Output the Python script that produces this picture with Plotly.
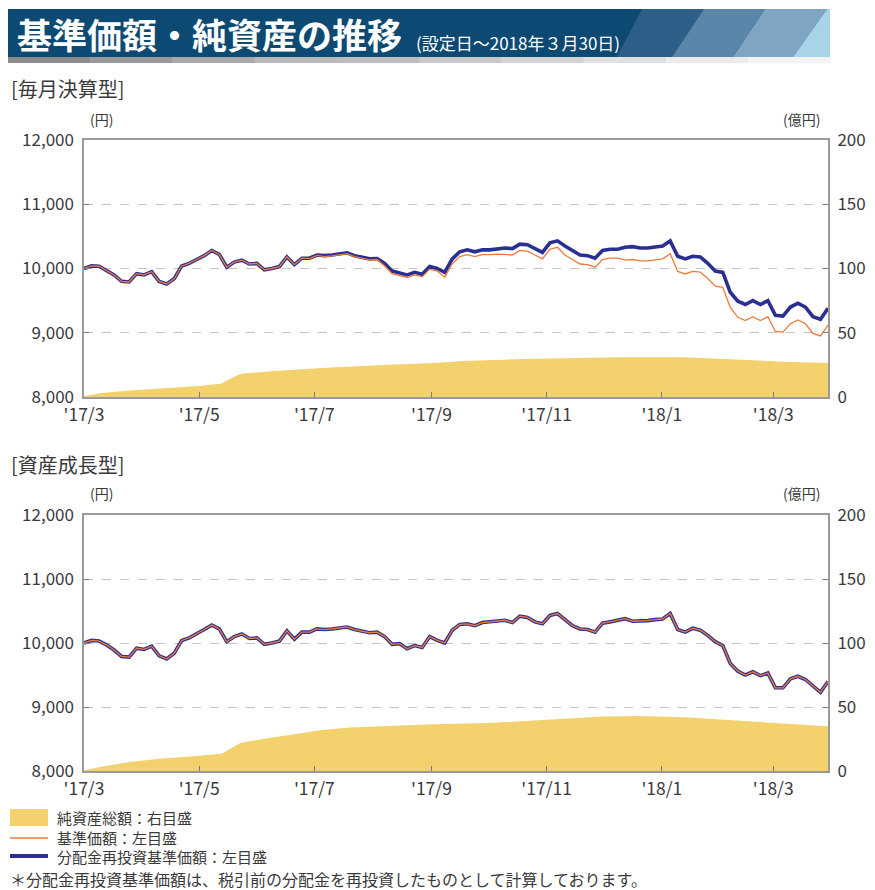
import plotly.graph_objects as go
import pandas as pd

# page body has an 8px margin: the figure is sized/shifted so that
# page pixel coordinates match the reference picture
OFF = 8
W, H = 875 - OFF, 890 - OFF

# ---------------- data ----------------
DATES = pd.date_range("2017-03-01", "2018-03-30", periods=100)

# 毎月決算型
M_NAV_REINV = [10000, 10040, 10035, 9970, 9900, 9800, 9790, 9920, 9900, 9950,
               9800, 9760, 9840, 10040, 10080, 10140, 10200, 10280, 10220, 10020,
               10100, 10130, 10070, 10080, 9980, 10000, 10030, 10180, 10060, 10160,
               10160, 10210, 10200, 10210, 10230, 10245, 10200, 10170, 10150, 10155,
               10080, 9960, 9930, 9900, 9940, 9910, 10030, 10000, 9940, 10150,
               10260, 10290, 10260, 10290, 10290, 10300, 10320, 10310, 10380, 10370,
               10310, 10250, 10400, 10430, 10350, 10280, 10210, 10200, 10160, 10280,
               10300, 10300, 10330, 10340, 10320, 10320, 10340, 10350, 10430, 10190,
               10150, 10190, 10180, 10080, 9960, 9940, 9630, 9490, 9440, 9500,
               9440, 9500, 9270, 9260, 9400, 9460, 9400, 9250, 9210, 9380]
M_NAV = [10000, 10040, 10035, 9970, 9900, 9800, 9790, 9920, 9900, 9950,
         9800, 9760, 9840, 10040, 10080, 10140, 10200, 10280, 10220, 10020,
         10100, 10130, 10070, 10080, 9980, 10000, 10030, 10180, 10060, 10160,
         10155, 10205, 10185, 10195, 10215, 10230, 10185, 10155, 10135, 10140,
         10040, 9920, 9890, 9860, 9900, 9870, 9990, 9960, 9865, 10075,
         10185, 10215, 10185, 10215, 10215, 10225, 10220, 10210, 10280, 10270,
         10210, 10150, 10300, 10330, 10210, 10140, 10070, 10060, 10020, 10140,
         10160, 10160, 10130, 10140, 10120, 10120, 10140, 10150, 10230, 9955,
         9915, 9955, 9945, 9845, 9725, 9705, 9395, 9240, 9190, 9250,
         9190, 9250, 9020, 9010, 9140, 9200, 9140, 8990, 8950, 9120]
M_AREA_DATES = ["2017-03-01", "2017-03-09", "2017-03-25", "2017-04-10", "2017-05-01",
                "2017-05-13", "2017-05-17", "2017-05-23", "2017-06-08", "2017-07-05",
                "2017-08-06", "2017-09-02", "2017-09-18", "2017-10-20", "2017-11-15",
                "2017-12-10", "2018-01-13", "2018-02-03", "2018-03-06", "2018-03-30"]
M_ASSETS = [0.5, 3, 5, 6.5, 8.5, 10.5, 14, 18, 20, 22.5,
            25, 26.5, 28, 29.5, 30.5, 31, 31, 29.5, 27.5, 26.5]

# 資産成長型
G_NAV_REINV = [10000, 10040, 10030, 9970, 9890, 9790, 9780, 9920, 9900, 9950,
               9800, 9750, 9840, 10040, 10080, 10140, 10210, 10280, 10220, 10020,
               10100, 10140, 10070, 10080, 9980, 10000, 10030, 10190, 10060, 10170,
               10170, 10220, 10210, 10220, 10240, 10250, 10210, 10180, 10160, 10170,
               10100, 9980, 9990, 9910, 9960, 9930, 10100, 10040, 10000, 10200,
               10290, 10300, 10270, 10320, 10335, 10340, 10355, 10320, 10420, 10400,
               10330, 10300, 10430, 10460, 10370, 10270, 10220, 10210, 10170, 10310,
               10330, 10360, 10380, 10340, 10340, 10350, 10365, 10375, 10460, 10210,
               10170, 10230, 10200, 10120, 10020, 9960, 9680, 9560, 9500, 9550,
               9490, 9530, 9300, 9300, 9440, 9480, 9430, 9330, 9230, 9400]
G_NAV = [10000, 10040, 10030, 9970, 9890, 9790, 9780, 9920, 9900, 9950,
         9800, 9750, 9840, 10040, 10080, 10140, 10210, 10280, 10220, 10020,
         10100, 10140, 10070, 10080, 9980, 10000, 10030, 10190, 10060, 10170,
         10170, 10220, 10210, 10220, 10240, 10250, 10210, 10180, 10160, 10170,
         10100, 9980, 9990, 9910, 9960, 9930, 10100, 10040, 10000, 10200,
         10290, 10300, 10270, 10320, 10335, 10340, 10355, 10320, 10420, 10400,
         10330, 10300, 10430, 10460, 10370, 10270, 10220, 10210, 10170, 10310,
         10330, 10360, 10380, 10340, 10340, 10350, 10365, 10375, 10460, 10210,
         10170, 10230, 10200, 10120, 10020, 9960, 9680, 9560, 9500, 9550,
         9490, 9530, 9300, 9300, 9440, 9480, 9430, 9330, 9230, 9400]
G_AREA_DATES = ["2017-03-01", "2017-03-09", "2017-03-25", "2017-04-10", "2017-05-01",
                "2017-05-13", "2017-05-17", "2017-05-23", "2017-06-08", "2017-07-05",
                "2017-07-20", "2017-08-06", "2017-09-02", "2017-10-01", "2017-11-01",
                "2017-12-01", "2017-12-20", "2018-01-13", "2018-02-03", "2018-03-06",
                "2018-03-30"]
G_ASSETS = [0.5, 3, 7, 9.5, 12, 13.5, 17, 22, 26, 32,
            34, 35, 36.5, 37.5, 40, 42.5, 43, 42, 40, 37.5, 35]

TICK_VALS = ["2017-03-01", "2017-05-01", "2017-07-01", "2017-09-01",
             "2017-11-01", "2018-01-01", "2018-03-01"]
TICK_TEXT = ["'17/3", "'17/5", "'17/7", "'17/9", "'17/11", "'18/1", "'18/3"]

LEGEND_TEXT = ["純資産総額：右目盛", "基準価額：左目盛", "分配金再投資基準価額：左目盛"]

# ---------------- style ----------------
FONT = "Noto Sans CJK JP"
GOLD = "#f3d16c"
BLUE = "#2b3090"
ORANGE = "#ee7b3a"
TXT = "#3a3a3a"
AX = "#9a9a9a"


def px(x):
    return (x - OFF) / W


def py(y):
    return 1 - (y - OFF) / H


fig = go.Figure()

for xa, ya_area, ya_line, ad, av, reinv, nav in [
    ("x", "y", "y2", M_AREA_DATES, M_ASSETS, M_NAV_REINV, M_NAV),
    ("x2", "y3", "y4", G_AREA_DATES, G_ASSETS, G_NAV_REINV, G_NAV),
]:
    fig.add_trace(go.Scatter(x=ad, y=av, xaxis=xa, yaxis=ya_area, mode="lines",
                             fill="tozeroy", fillcolor=GOLD,
                             line=dict(width=0, color=GOLD), showlegend=False,
                             hoverinfo="skip"))
    fig.add_trace(go.Scatter(x=DATES, y=reinv, xaxis=xa, yaxis=ya_line, mode="lines",
                             line=dict(color=BLUE, width=3.6), showlegend=False))
    fig.add_trace(go.Scatter(x=DATES, y=nav, xaxis=xa, yaxis=ya_line, mode="lines",
                             line=dict(color=ORANGE, width=1.3), showlegend=False))

XDOM = [px(84), px(828)]
TOP_DOM = [py(397), py(140)]
BOT_DOM = [py(771), py(515)]

def xaxis_cfg(anchor):
    return dict(domain=XDOM, anchor=anchor, type="date", automargin=False,
                range=[DATES[0], DATES[-1]],
                tickvals=TICK_VALS, ticktext=TICK_TEXT,
                ticks="inside", ticklen=5, tickcolor="#777", tickwidth=1,
                showline=True, linecolor=AX, linewidth=2, mirror=True,
                showgrid=False, zeroline=False,
                tickfont=dict(family=FONT, size=17.5, color=TXT),
                ticklabelstandoff=1)

def right_cfg(anchor, dom):
    return dict(domain=dom, anchor=anchor, side="right", range=[0, 200],
                automargin=False,
                tickvals=[0, 50, 100, 150, 200], ticks="inside", ticklen=5,
                tickcolor="#777", showline=True, linecolor=AX, linewidth=2,
                mirror=True, showgrid=True, gridcolor="#c4c4c4", griddash="dash",
                gridwidth=1, zeroline=False,
                tickfont=dict(family=FONT, size=17, color=TXT),
                ticklabelstandoff=4)

def left_cfg(over, anchor):
    return dict(overlaying=over, anchor=anchor, side="left", range=[8000, 12000],
                automargin=False,
                tickvals=[8000, 9000, 10000, 11000, 12000], tickformat=",d",
                ticks="inside", ticklen=5, tickcolor="#777",
                showline=False, showgrid=False, zeroline=False,
                tickfont=dict(family=FONT, size=17, color=TXT),
                ticklabelstandoff=9)

shapes = []
# banner
BT, BB = 9, 57
shapes.append(dict(type="rect", xref="paper", yref="paper", x0=px(8), x1=px(830),
                   y0=py(BB), y1=py(BT), fillcolor="#0d4a73", line=dict(width=0)))
bands = [((642, 617), (704, 672), "#2e5f88"),
         ((704, 672), (765, 733), "#5986a9"),
         ((765, 733), (827, 793), "#7ea6c4")]
for (t0, b0), (t1, b1), col in bands:
    path = (f"M {px(t0)} {py(BT)} L {px(t1)} {py(BT)} L {px(b1)} {py(BB)} "
            f"L {px(b0)} {py(BB)} Z")
    shapes.append(dict(type="path", xref="paper", yref="paper", path=path,
                       fillcolor=col, line=dict(width=0)))
shapes.append(dict(type="path", xref="paper", yref="paper",
                   path=(f"M {px(827)} {py(BT)} L {px(830)} {py(BT)} L {px(830)} {py(BB)} "
                         f"L {px(793)} {py(BB)} Z"),
                   fillcolor="#a9d3e9", line=dict(width=0)))
# gray gradient strip
grays = ["#8c8c8c", "#9a9a9a", "#a8a8a8", "#b8b8b8", "#bdbdbd", "#c8c8c8",
         "#d4d4d4", "#e0e0e0", "#ebebeb", "#f4f4f4"]
seg = (830 - 8) / len(grays)
for i, g in enumerate(grays):
    shapes.append(dict(type="rect", xref="paper", yref="paper",
                       x0=px(8 + i * seg), x1=px(8 + (i + 1) * seg + 0.5),
                       y0=py(63), y1=py(57), fillcolor=g, line=dict(width=0)))

# legend swatches
shapes.append(dict(type="rect", xref="paper", yref="paper", x0=px(10), x1=px(48),
                   y0=py(826), y1=py(809), fillcolor=GOLD, line=dict(width=0)))
shapes.append(dict(type="line", xref="paper", yref="paper", x0=px(10), x1=px(48),
                   y0=py(838), y1=py(838), line=dict(color=ORANGE, width=1.5)))
shapes.append(dict(type="line", xref="paper", yref="paper", x0=px(10), x1=px(48),
                   y0=py(856), y1=py(856), line=dict(color=BLUE, width=4)))

ann = []
def text(x, y, s, size, color=TXT, xanchor="left"):
    ann.append(dict(x=px(x), y=py(y), xref="paper", yref="paper", text=s,
                    showarrow=False, xanchor=xanchor, yanchor="middle",
                    font=dict(family=FONT, size=size, color=color)))

text(15, 34, "<b>基準価額・純資産の推移</b>", 35, color="white")
text(414, 43, "(設定日～2018年３月30日)", 17, color="white")
text(9, 89, "[毎月決算型]", 20)
text(101, 119, "(円)", 14, xanchor="center")
text(801, 119, "(億円)", 14, xanchor="center")
text(9, 464, "[資産成長型]", 20)
text(101, 493, "(円)", 14, xanchor="center")
text(801, 493, "(億円)", 14, xanchor="center")
for t, yy in zip(LEGEND_TEXT, [817, 837, 856]):
    text(55, yy, t, 15)
text(8, 879, "＊分配金再投資基準価額は、税引前の分配金を再投資したものとして計算しております。", 16)

fig.update_layout(
    width=W, height=H, margin=dict(l=0, r=0, t=0, b=0, pad=0, autoexpand=False),
    paper_bgcolor="white", plot_bgcolor="white", showlegend=False,
    font=dict(family=FONT, color=TXT),
    xaxis=xaxis_cfg("y"), xaxis2=xaxis_cfg("y3"),
    yaxis=right_cfg("x", TOP_DOM), yaxis2=left_cfg("y", "x"),
    yaxis3=right_cfg("x2", BOT_DOM), yaxis4=left_cfg("y3", "x2"),
    shapes=shapes, annotations=ann,
)

fig.write_html("out.html")
